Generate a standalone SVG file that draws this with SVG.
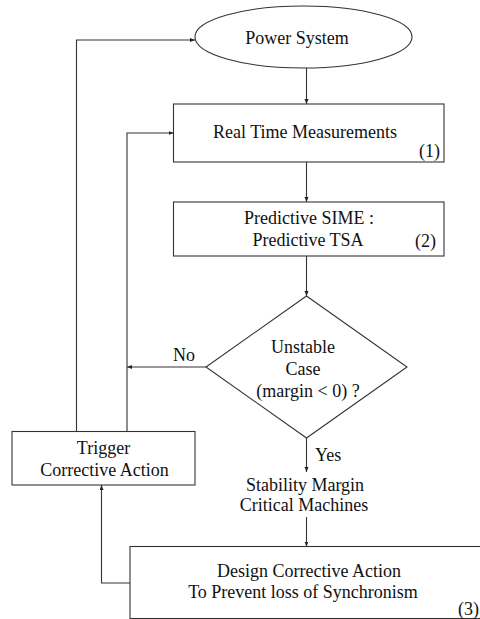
<svg xmlns="http://www.w3.org/2000/svg" width="480" height="619" viewBox="0 0 480 619">
  <style>
    .shape { fill: #fff; stroke: #333; stroke-width: 1.1; }
    .wire { fill: none; stroke: #333; stroke-width: 1.1; marker-end: url(#head); }
    text { font-family: "Liberation Serif", "Times New Roman", serif; font-size: 18px; fill: #111; }
    .c { text-anchor: middle; }
    .e { text-anchor: end; }
  </style>
  <defs>
    <marker id="head" markerUnits="userSpaceOnUse" markerWidth="6" markerHeight="6" refX="5" refY="2" orient="auto">
      <path d="M0,0 L5,2 L0,4 Z" fill="#222"/>
    </marker>
  </defs>
  <rect width="480" height="619" fill="#fff"/>

  <g id="connectors">
    <path class="wire" d="M306.5,68 V104"/>
    <path class="wire" d="M306.5,162 V202"/>
    <path class="wire" d="M306.5,256 V296"/>
    <path class="wire" d="M306.5,438 V472"/>
    <path class="wire" d="M306.5,517 V546.5"/>
    <path class="wire" d="M206,367 H127"/>
    <path class="wire" d="M127,431.5 V133 H173.5"/>
    <path class="wire" d="M76.5,431.5 V40 H195"/>
    <path class="wire" d="M130,583 H101.5 V485"/>
    <text x="173" y="360.5">No</text>
    <text x="315" y="460.5">Yes</text>
  </g>

  <g id="power-system">
    <ellipse class="shape" cx="303.5" cy="37" rx="108.5" ry="31"/>
    <text class="c" x="297" y="43.5">Power System</text>
  </g>

  <g id="measurements">
    <rect class="shape" x="173.5" y="104" width="270.5" height="58"/>
    <text class="c" x="305" y="138">Real Time Measurements</text>
    <text class="e" x="440" y="157">(1)</text>
  </g>

  <g id="predictive-sime">
    <rect class="shape" x="173.5" y="202" width="270.5" height="54"/>
    <text class="c" x="309" y="223.5">Predictive SIME :</text>
    <text class="c" x="308" y="245.5">Predictive TSA</text>
    <text class="e" x="436" y="247">(2)</text>
  </g>

  <g id="unstable-check">
    <polygon class="shape" points="306.5,296 407,367 306.5,438 206,367"/>
    <text class="c" x="303" y="352.5">Unstable</text>
    <text class="c" x="303" y="374.5">Case</text>
    <text class="c" x="308" y="396.5">(margin &lt; 0) ?</text>
  </g>

  <g id="stability-margin">
    <text class="c" x="305" y="490.5">Stability Margin</text>
    <text class="c" x="304" y="510.5">Critical Machines</text>
  </g>

  <g id="trigger-action">
    <rect class="shape" x="12" y="431.5" width="183" height="53.5"/>
    <text class="c" x="103.5" y="453.5">Trigger</text>
    <text class="c" x="104.5" y="475.5">Corrective Action</text>
  </g>

  <g id="design-action">
    <rect class="shape" x="130" y="546.5" width="360" height="72"/>
    <text class="c" x="309" y="577">Design Corrective Action</text>
    <text class="c" x="303" y="598">To Prevent loss of Synchronism</text>
    <text class="e" x="479" y="615">(3)</text>
  </g>
</svg>
